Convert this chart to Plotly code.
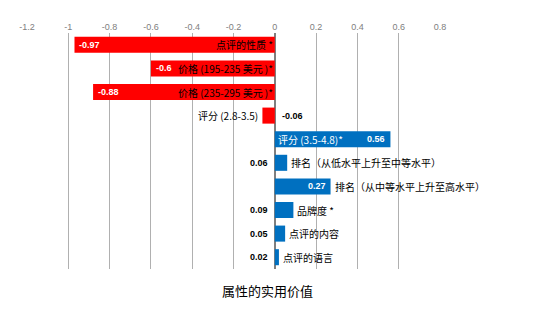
import plotly.graph_objects as go

categories = [
    "点评的性质 *",
    "价格 (195-235 美元 )*",
    "价格 (235-295 美元 )*",
    "评分 (2.8-3.5)",
    "评分 (3.5-4.8)*",
    "排名（从低水平上升至中等水平）",
    "排名（从中等水平上升至高水平）",
    "品牌度 *",
    "点评的内容",
    "点评的语言",
]
values = [-0.97, -0.6, -0.88, -0.06, 0.56, 0.06, 0.27, 0.09, 0.05, 0.02]
x_ticks = [-1.2, -1.0, -0.8, -0.6, -0.4, -0.2, 0, 0.2, 0.4, 0.6, 0.8]
x_tick_labels = ["-1.2", "-1", "-0.8", "-0.6", "-0.4", "-0.2", "0", "0.2", "0.4", "0.6", "0.8"]
title_text = "属性的实用价值"

RED = "#FF0000"
BLUE = "#0070C0"
FONT = "Noto Sans CJK SC"

colors = [RED if v < 0 else BLUE for v in values]
ids = list(range(len(values)))

fig = go.Figure()
fig.add_trace(go.Bar(
    x=values, y=ids, orientation="h",
    marker=dict(color=colors, line=dict(width=0)),
    width=0.68, hoverinfo="skip",
))

ann = []
for i, (c, v) in enumerate(zip(categories, values)):
    vt = f"{v:g}"
    vfont_w = dict(family="Liberation Sans", size=9, color="white", weight="bold")
    vfont_b = dict(family="Liberation Sans", size=9, color="black", weight="bold")
    cfont_b = dict(family=FONT, size=10, color="black")
    cfont_w = dict(family=FONT, size=10, color="white")
    if v < 0:
        if abs(v) > 0.3:
            ann.append(dict(x=v, y=i, text=vt, xanchor="left", xshift=3, font=vfont_w))
            ann.append(dict(x=0, y=i, text=c, xanchor="right", xshift=0, font=cfont_b))
        else:
            ann.append(dict(x=v, y=i, text=c, xanchor="right", xshift=-2, font=cfont_b))
            ann.append(dict(x=0, y=i, text=vt, xanchor="left", xshift=5, font=vfont_b))
    else:
        if v > 0.4:
            ann.append(dict(x=0, y=i, text=c, xanchor="left", xshift=1, font=cfont_w))
            ann.append(dict(x=v, y=i, text=vt, xanchor="right", xshift=-3, font=vfont_w))
        elif v > 0.15:
            ann.append(dict(x=v, y=i, text=vt, xanchor="right", xshift=-3, font=vfont_w))
            ann.append(dict(x=v, y=i, text=c, xanchor="left", xshift=2, font=cfont_b))
        else:
            ann.append(dict(x=0, y=i, text=vt, xanchor="right", xshift=-5, font=vfont_b))
            ann.append(dict(x=v, y=i, text=c, xanchor="left", xshift=2, font=cfont_b))

for a in ann:
    a.update(xref="x", yref="y", showarrow=False, yanchor="middle")

ann.append(dict(xref="paper", yref="paper", x=0.583, y=-0.09, text=title_text,
                showarrow=False, xanchor="center", yanchor="middle",
                font=dict(family=FONT, size=13, color="black")))

fig.update_layout(
    width=550, height=309,
    margin=dict(l=27, r=110, t=33, b=40),
    paper_bgcolor="white", plot_bgcolor="white",
    showlegend=False,
    annotations=ann,
    xaxis=dict(
        range=[-1.2, 0.8], side="top",
        tickvals=x_ticks, ticktext=x_tick_labels,
        showgrid=True, gridcolor="#B0B0B0", gridwidth=1,
        zeroline=True, zerolinecolor="#7F7F7F", zerolinewidth=1.5,
        tickfont=dict(family="Liberation Sans", size=9, color="#808080"),
        ticks="", showline=False, fixedrange=True,
    ),
    yaxis=dict(
        range=[9.5, -0.5], showticklabels=False, showgrid=False,
        zeroline=False, showline=False, fixedrange=True,
    ),
)

fig.write_html("out.html")
